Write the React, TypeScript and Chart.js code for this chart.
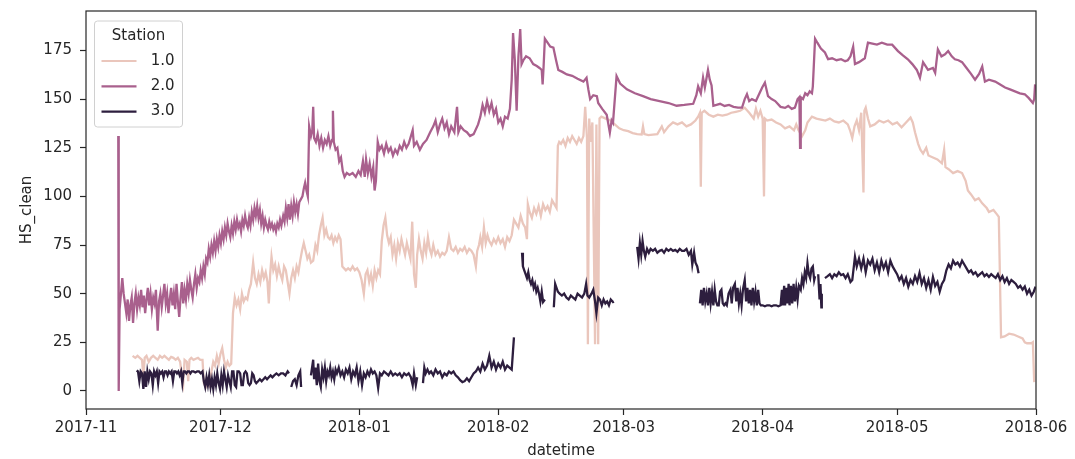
import React, { useEffect, useRef } from "react";
import { Chart, registerables } from "chart.js";

Chart.register(...registerables);

// x values are days since 2017-11-01
const monthTickDays = [0, 30, 61, 92, 120, 151, 181, 212];
const monthTickLabels = ["2017-11", "2017-12", "2018-01", "2018-02", "2018-03", "2018-04", "2018-05", "2018-06"];
const yTicks = [0, 25, 50, 75, 100, 125, 150, 175];
const stationLabels = ["1.0", "2.0", "3.0"];
const stationColors = ["#eac6bc", "#a9608d", "#2d1e3e"];

const station1: [number, number | null][] = [
  [10.4,18],[11,17],[11.5,18],[12,17],[12.5,16],[12.8,7],[13.1,17],[13.5,18],[14,15],[14.5,17],[15,18],[15.5,17],[16,16],[16.5,18],[17,17],[17.5,18],[18,17],[18.5,16],[19,17.5],[19.5,17],[20,16],[20.5,17],[21,15],[21.4,8],[21.7,4],[22,16],[22.5,15],[22.8,5],[23.1,16],[23.5,17],[24,16],[24.5,16.5],[25,17],[25.5,16],[26,16],[26.3,4],[26.7,2],[27.1,5],[27.5,3],[28,10],[28.4,15],[28.8,13],[29.2,18],[29.6,14],[30,19],[30.4,22],[30.8,16],[31.2,12],[31.6,15],[32,13],[32.4,14],[32.8,40],[33.2,48],[33.6,44],[34,47],[34.4,42],[34.8,50],[35.2,46],[35.6,48],[36,47],[36.4,52],[36.8,55],[37.3,66],[37.7,58],[38.1,55],[38.5,60],[38.9,56],[39.3,62],[39.7,58],[40.1,61],[40.5,56],[40.8,45],[41.1,60],[41.4,69],[41.8,62],[42.2,65],[42.6,59],[43,64],[43.4,60],[43.8,57],[44.2,64],[44.6,62],[45,56],[45.4,50],[45.8,58],[46.2,62],[46.6,58],[47,64],[47.4,61],[47.8,67],[48.2,72],[48.6,76],[49,72],[49.4,68],[49.8,70],[50.2,66],[50.7,67],[51.2,75],[51.6,72],[52,80],[52.4,85],[52.8,89],[53.2,80],[53.6,83],[54,79],[54.4,78],[54.8,80],[55.2,76],[55.6,79],[56,77],[56.4,80],[56.8,78],[57.2,64],[57.6,63],[58,62],[58.5,63],[59,62],[59.5,64],[60,62],[60.5,63],[61,61],[61.5,57],[62,50],[62.4,60],[62.8,62],[63.2,56],[63.6,60],[64,54],[64.4,62],[64.8,58],[65.2,62],[65.6,60],[66,77],[66.4,85],[66.8,89],[67.2,80],[67.6,76],[68,79],[68.4,70],[68.8,75],[69.2,68],[69.6,76],[70,72],[70.4,78],[70.8,74],[71.2,70],[71.6,76],[72,72],[72.4,68],[72.8,87],[73.2,60],[73.6,53],[73.9,70],[74.3,78],[74.7,72],[75.1,68],[75.5,76],[75.9,71],[76.3,79],[76.7,73],[77.1,70],[77.5,75],[78,70],[78.5,72],[79,69],[79.5,71],[80,70],[80.5,72],[81,79],[81.5,73],[82,72],[82.5,74],[83,71],[83.5,73],[84,72],[84.5,74],[85,71],[85.5,73],[86,72],[86.5,70],[87,64],[87.3,72],[87.7,75],[88,79],[88.4,74],[88.8,84],[89.2,76],[89.6,80],[90,77],[90.5,75],[91,78],[91.5,76],[92,79],[92.5,76],[93,78],[93.5,74],[94,79],[94.5,77],[95,80],[95.5,88],[96,86],[96.5,84],[97,90],[97.5,86],[98,84],[98.4,78],[98.6,96],[99,92],[99.5,89],[100,94],[100.5,91],[101,95],[101.5,90],[102,96],[102.5,93],[103,95],[103.5,92],[104,98],[104.5,96],[105,94],[105.3,126],[105.6,128],[106,127],[106.5,129],[107,126],[107.5,130],[108,128],[108.5,131],[109,129],[109.5,127],[110,130],[110.5,128],[111,131],[111.4,146],[111.8,130],[112,24],[112.3,140],[112.6,128],[113,138],[113.6,24],[113.9,137],[114.3,24],[114.6,140],[115,141],[116,140],[117,139],[118,137],[119,135],[120,134],[121,133.5],[122,132.5],[123,132],[124,131.8],[124.3,136],[124.6,132],[125.5,131.5],[126.5,131.8],[127.5,132],[128.5,136],[129,133],[130,136],[131,138],[132,137],[133,138],[134,136],[135,137],[136,139],[136.6,141],[137,143],[137.2,105],[137.4,143],[138,144],[139,142],[140,141],[141,142],[142,141.5],[143,142],[144,143],[145,143.5],[146,144],[147,145.6],[148,143],[149,140],[149.5,145],[150,141],[150.5,144],[151,140],[151.3,100],[151.5,140],[152,139],[153,139.5],[154,138],[155,137],[156,135],[157,136],[158,134],[158.5,137],[159,134],[159.8,131],[160.5,134],[161,138],[162,141],[163,140],[164,139.5],[165,139],[166,140],[167,138.5],[168,138],[169,139],[170,137],[170.5,134],[171,130],[171.5,136],[172,139],[172.5,134],[173,143],[173.5,102],[173.7,144],[174,145.6],[174.5,140],[175,136],[176,137],[177,139],[178,138],[179,139],[180,137],[181,138],[182,135.5],[183,138],[184,140.5],[184.5,138],[185,133],[185.7,127],[186.2,124],[186.8,122],[187.5,125],[188,121],[189,120],[190,119],[191,117],[191.5,124],[191.8,115],[192.5,114],[193.5,112],[194.5,113],[195.5,112],[196.3,108],[196.8,103],[197.5,101],[198.4,98],[199.2,99],[200,96.4],[201,94],[201.5,92],[202.5,93],[203.2,91],[203.7,89.5],[204.2,27.6],[205,28],[206,29.4],[207,29],[208,28],[209,27],[209.5,25],[210,24.5],[211,24.5],[211.3,25],[211.6,4.5]
];

const station2: [number, number | null][] = [
  [7.2,131],[7.3,0],[7.5,42],[7.8,50],[8.1,58],[8.4,50],[8.7,45],[9.0,40],[9.3,47],[9.6,36],[9.9,44],[10.2,48],[10.5,35],[10.8,45],[11.1,50],[11.4,42],[11.7,48],[12.0,44],[12.3,52],[12.6,43],[12.9,49],[13.2,40],[13.5,47],[13.8,53],[14.1,44],[14.4,50],[14.7,42],[15.0,48],[15.3,45],[15.6,52],[16.0,31],[16.3,46],[16.6,50],[16.9,43],[17.2,49],[17.5,55],[17.8,45],[18.1,50],[18.4,40],[18.7,47],[19.0,53],[19.3,44],[19.6,50],[19.9,42],[20.2,55],[20.5,46],[20.8,38],[21.1,48],[21.4,56],[21.7,45],[22.0,52],[22.3,47],[22.6,55],[22.9,50],[23.2,57],[23.5,52],[23.8,48],[24.1,55],[24.4,60],[24.7,53],[25.0,58],[25.3,56],[25.6,62],[25.9,58],[26.2,64],[26.5,60],[26.8,68],[27.1,66],[27.4,73],[27.7,69],[28.0,75],[28.3,71],[28.6,77],[28.9,72],[29.2,78],[29.5,74],[29.8,80],[30.1,76],[30.4,82],[30.7,78],[31.0,84],[31.3,80],[31.6,86],[31.9,82],[32.2,79],[32.5,85],[32.8,81],[33.1,87],[33.4,83],[33.7,88],[34.0,84],[34.3,86],[34.6,82],[34.9,88],[35.2,85],[35.5,90],[35.8,86],[36.1,84],[36.4,89],[36.7,85],[37.0,92],[37.3,88],[37.6,94],[37.9,90],[38.2,95],[38.5,89],[38.8,93],[39.1,86],[39.4,90],[39.7,84],[40.0,88],[40.3,85],[40.6,83],[40.9,87],[41.2,84],[41.5,86],[41.8,83],[42.1,85],[42.4,82],[42.7,86],[43.0,84],[43.3,88],[43.6,85],[44.0,90],[44.3,87],[44.6,94],[44.9,89],[45.2,96],[45.5,88],[45.8,95],[46.1,90],[46.4,97],[46.7,92],[47.0,96],[47.3,91],[47.6,97],[48.3,100],[48.6,104],[48.9,107],[49.2,103],[49.5,100],[49.8,136],[50.2,131],[50.5,134],[50.7,146],[50.9,130],[51.3,128],[51.7,132],[52.1,126],[52.5,130],[52.9,125],[53.3,129],[53.7,127],[54.1,131],[54.5,126],[54.9,129],[55.1,144],[55.3,128],[55.7,124],[56.1,125],[56.5,118],[56.9,120],[57.3,113],[57.7,110],[58.2,112],[58.8,111],[59.5,112],[60.2,110],[60.8,113],[61.3,111],[61.8,118],[62.2,110],[62.5,119],[62.9,112],[63.3,117],[63.7,110],[64.1,115],[64.4,103],[64.7,108],[65.1,128],[65.5,124],[66,126],[66.5,122],[67,127],[67.5,123],[68,125],[68.5,121],[69,124],[69.5,122],[70,126],[70.5,124],[71,128],[71.5,125],[72,127],[72.9,134],[73.2,126],[73.8,128],[74.5,124],[75.2,127],[76,129],[76.8,133],[77.5,136],[78,139],[78.5,133],[79,137],[79.5,140],[80,135],[80.5,138],[81,132],[81.5,136],[82.2,133],[82.8,146],[83.1,133],[83.6,136],[84.3,134],[85,133],[85.7,131],[86.5,132],[87.5,137],[88,141],[88.5,147],[89,143],[89.5,149],[90,144],[90.5,148],[91,142],[91.5,145],[92,138],[92.5,140],[93,136],[93.5,141],[94.1,140],[94.6,145],[95.0,160],[95.3,184],[95.7,170],[96.1,144],[96.5,172],[96.9,186],[97.2,168],[97.6,170],[98.2,172],[99,171],[99.8,168],[100.6,167],[101.2,166],[101.7,165],[101.9,157.5],[102.1,166],[102.4,181],[103,179],[103.6,177],[104.3,176.5],[104.9,170],[105.4,165],[106.3,164],[107.3,162.7],[108.5,162],[109.7,160.5],[111,159],[111.7,161],[112.1,155],[112.5,150],[113.2,152],[114,151.5],[114.3,148],[115.2,145],[116.2,142],[116.9,132.8],[117.3,139],[117.6,137.8],[118.4,161.8],[119.2,158],[120.7,155],[122.5,153],[124.3,151.5],[126,150],[128,149],[130,148],[131.8,146.6],[133.5,147],[135.5,147.6],[136.2,152],[136.6,156.6],[137.2,153],[137.7,161],[138.1,156],[138.8,165],[139.2,160],[139.6,157],[140,146.6],[141.5,147.6],[142.5,146.5],[143.5,147],[144.5,146],[145.5,145.6],[146.4,145.6],[147,150],[147.5,152.5],[148,149],[148.6,150],[149.5,149],[150.3,153],[150.9,156],[151.5,158.5],[152.2,151.5],[153,150],[153.8,149],[155,146],[156,145.5],[156.7,146.5],[157.5,145],[158.2,145.6],[158.8,150],[159.2,151],[159.35,125],[159.5,151],[160,150],[160.5,153],[161,152],[161.5,154],[162,153],[162.2,156.6],[162.7,181],[163.2,179],[164,176],[164.9,174],[165.6,170.5],[166.5,171],[167.5,170],[168.5,170.5],[169.4,169.5],[170,170],[170.6,172],[171.2,177],[171.6,168],[172.5,169],[173.8,171],[174.5,179],[175.5,178.5],[176.5,178],[177.6,179],[178.8,178],[179.9,178],[181.2,174.7],[182.3,172.5],[183.4,170.5],[184.4,168],[185.4,165],[186.1,161],[186.8,169],[187.9,165],[189,166],[189.5,163.5],[190.1,175.6],[190.9,172],[191.7,173],[192.4,174.7],[193.2,172],[193.9,170.5],[194.7,170],[195.5,169],[196.5,166],[197.5,163],[198.4,160],[199.3,163],[200,166.8],[200.6,159],[201.5,160],[202.9,159],[204,157.5],[205.1,156],[206.2,155],[207.3,154],[208.4,153],[209.5,152.5],[210.4,150.5],[211.3,148],[211.6,150],[211.8,157.6]
];

const station3: [number, number | null][] = [
  [11.3,10.5],[11.6,10],[11.9,5],[12.2,10],[12.5,9],[12.8,1],[13.1,10],[13.4,2],[13.7,10],[14.0,6],[14.3,10],[14.6,9],[14.9,3],[15.2,10],[15.5,8],[15.8,10],[16.1,4],[16.4,10],[16.7,9],[17.0,10],[17.3,7],[17.6,10],[17.9,10],[18.2,8],[18.5,10],[18.8,9],[19.1,10],[19.4,5],[19.7,10],[20.0,10],[20.3,9],[20.6,10],[20.9,8],[21.2,10],[21.5,4],[21.8,10],[22.1,10],[22.4,9],[22.7,10],[23.0,10],[23.3,9],[23.6,10],[24.0,10],[24.4,9.5],[24.8,10],[25.2,10],[25.6,9],[26.0,10],[26.3,5],[26.6,2],[26.9,7],[27.2,3],[27.5,8],[27.8,2],[28.1,6],[28.4,1],[28.7,7],[29.0,3],[29.3,9],[29.6,4],[29.9,1],[30.2,8],[30.5,3],[30.8,10],[31.1,6],[31.4,2],[31.7,8],[32.0,5],[32.3,2],[32.6,10],[32.9,10],[33.2,3],[33.5,2],[33.8,10],[34.1,10],[34.4,9],[34.7,3],[35.0,3],[35.3,9],[35.6,10],[35.9,9],[36.2,4],[36.5,3],[36.8,4],[37.1,9],[37.4,8],[37.7,5],[38.0,4],[38.4,5],[38.8,6],[39.2,5],[39.6,6],[40.0,7],[40.4,6],[40.8,7],[41.2,8],[41.6,7],[42.0,8],[42.5,9],[43.0,8],[43.5,9],[44.0,9],[44.5,8],[45.0,10],[45.3,9],[45.5,null],
  [45.8,2],[46.2,5],[46.6,6],[47.0,3],[47.4,8],[47.8,10],[48.0,2],[49.0,null],
  [50.2,8],[50.7,16],[50.9,6],[51.2,12],[51.5,3],[51.8,14],[52.1,5],[52.4,2],[52.7,11],[53.0,7],[53.3,12],[53.6,5],[53.9,10],[54.2,8],[54.5,12],[54.8,7],[55.1,10],[55.4,6],[55.7,11],[56.0,9],[56.4,12],[56.8,8],[57.2,10],[57.6,7],[58.0,11],[58.4,9],[58.8,12],[59.2,6],[59.6,10],[60.0,8],[60.4,12],[60.8,5],[61.2,10],[61.6,3],[62.0,9],[62.4,7],[62.8,10],[63.2,8],[63.6,11],[64.0,9],[64.4,10],[64.8,8],[65.2,1.5],[65.6,9],[66.0,8],[66.5,10],[67.0,9],[67.5,8],[68.0,10],[68.5,8],[69.0,9],[69.5,8],[70.0,9],[70.5,7],[71.0,9],[71.5,8],[72.0,9],[72.5,7],[72.9,3],[73.2,9],[73.6,3],[73.9,7],[74.5,null],
  [75.2,4],[75.5,12],[75.8,9],[76.2,11],[76.6,9],[77.0,10],[77.5,8],[78.0,11],[78.5,9],[79.0,10],[79.5,7],[80.0,9],[80.5,8],[81.0,10],[81.5,9],[82.0,10],[82.5,8],[83.0,7],[83.5,5.5],[84.0,4.5],[84.5,5],[85.0,6.5],[85.5,5],[86.0,7],[86.5,9],[87.0,10],[87.5,12],[88.0,10],[88.5,14],[89.0,11],[89.5,13],[90.0,18],[90.5,12],[91.0,15],[91.5,11],[92.0,14],[92.5,12],[93.0,15],[93.5,11],[94.0,13],[94.5,12],[95.0,11],[95.5,27.5],[96.5,null],
  [97.3,71],[97.5,64],[97.8,62],[98.1,60],[98.4,58],[98.7,61],[99.0,57],[99.3,55],[99.6,57],[99.9,53],[100.2,55],[100.5,51],[100.8,53],[101.1,50],[101.4,46],[101.7,51],[102.0,45.7],[102.4,47],[103.4,null],
  [104.4,43],[104.7,55],[105.0,53],[105.3,51],[105.7,50],[106.2,49],[106.7,50],[107.2,48],[107.7,47],[108.2,49],[108.7,48],[109.2,47],[109.7,50],[110.2,49],[110.7,48],[111.2,50],[111.6,55],[111.9,49],[112.3,48],[112.8,50],[113.2,52],[113.6,46],[113.9,40],[114.3,48],[114.7,47],[115.1,44],[115.5,47],[115.9,45],[116.3,46],[116.7,44],[117.1,47],[117.6,45.7],[117.8,46],[120,null],
  [123.0,74],[123.3,68],[123.6,76],[123.9,70],[124.2,77],[124.5,72],[124.8,69],[125.2,73],[125.6,71],[126.0,73],[126.5,72],[127.0,73],[127.5,71],[128.0,72],[128.5,72.5],[129.0,71],[129.5,73],[130.0,72],[130.5,73],[131.0,72],[131.5,72.5],[132.0,71.5],[132.5,73],[133.0,72],[133.5,72],[134.0,73],[134.5,70],[135.0,72],[135.3,65],[135.7,71],[136.0,66],[136.4,64],[136.7,60.5],[136.9,null],
  [137.0,45],[137.3,52],[137.6,44],[137.9,53],[138.2,46],[138.5,50],[138.8,44],[139.1,53],[139.4,45],[139.7,51],[140.0,44],[140.3,52],[140.6,46],[140.9,44],[141.2,44],[141.5,51],[141.8,52],[142.1,45],[142.4,44],[142.7,45],[143.0,44],[143.4,50],[143.8,52],[144.1,45],[144.4,53],[144.8,55],[145.1,46],[145.4,53],[145.7,45],[146.0,50],[146.3,44],[146.6,52],[147.0,57],[147.3,46],[147.6,53],[147.9,45],[148.2,52],[148.5,44],[148.8,53],[149.1,46],[149.4,51],[149.7,44],[150.0,52],[150.3,45],[150.6,44],[151.0,44],[151.5,43.5],[152.0,44],[152.5,44],[153.0,43.5],[153.5,44],[154.0,44],[154.5,43.5],[155.0,44],[155.3,52],[155.5,44],[155.8,54],[156.0,44],[156.3,53],[156.5,45],[156.8,55],[157.0,44],[157.3,54],[157.6,45],[157.9,55],[158.2,46],[158.5,53],[158.8,47],[159.1,54],[159.5,52],[159.8,58],[160.1,55],[160.4,61],[160.7,58],[161.0,65.6],[161.3,60],[161.6,58],[161.9,63],[162.2,64],[162.5,57],[162.7,59],[163.0,null],
  [163.4,60],[163.7,47],[163.9,55],[164.1,43],[164.2,50],[164.5,null],
  [164.9,58],[165.5,59],[166,60],[166.5,58],[167,60],[167.5,59],[168,61],[168.5,59.5],[169,60],[169.5,58],[170,60],[170.6,56],[171,57],[171.6,69],[172,64],[172.5,68],[173,63],[173.5,68],[174,61],[174.5,67],[175,65],[175.5,68],[176,62],[176.5,66],[177,61],[177.5,67],[178,63],[178.5,66],[179,61],[179.5,67],[180,64],[180.5,62],[181,60],[181.5,57],[182,59],[182.5,55],[183,58],[183.5,53.6],[184,57],[184.5,55],[185,59],[185.5,56],[186,60.6],[186.5,55],[187,58],[187.5,53],[188,57],[188.5,52],[189,58.6],[189.5,54],[190,56],[190.5,51],[191,55],[191.5,57],[192,62],[192.5,65],[193,63],[193.5,67],[194,65],[194.5,66],[195,64],[195.5,67],[196,65],[196.5,63],[197,61],[197.5,62],[198,60],[198.5,61],[199,59],[199.5,60],[200,61],[200.5,59],[201,60],[201.5,58.6],[202,60],[202.5,59],[203,58],[203.5,60],[204,57],[204.5,59],[205,56],[205.5,58],[206,55],[206.5,57],[207,56],[207.5,55],[208,53],[208.5,54],[209,52],[209.5,53.6],[210,50],[210.5,52],[211,49],[211.5,51],[211.9,53.6]
];

const stationSeries = [station1, station2, station3];

const TEXT = "#262626";
const FONT = "'DejaVu Sans', sans-serif";

const framePlugin = {
  id: "frameAndLegend",
  afterDraw(chart: any) {
    const { ctx, chartArea } = chart;
    ctx.save();
    ctx.strokeStyle = TEXT;
    ctx.lineWidth = 1.2;
    ctx.strokeRect(chartArea.left, chartArea.top, chartArea.right - chartArea.left, chartArea.bottom - chartArea.top);

    // legend box, matplotlib style
    const bx = chartArea.left + 8.5;
    const by = chartArea.top + 10;
    const bw = 88;
    const bh = 106;
    ctx.beginPath();
    if ((ctx as any).roundRect) (ctx as any).roundRect(bx, by, bw, bh, 3);
    else ctx.rect(bx, by, bw, bh);
    ctx.fillStyle = "rgba(255,255,255,0.85)";
    ctx.fill();
    ctx.strokeStyle = "#d0d0d0";
    ctx.lineWidth = 1;
    ctx.stroke();

    ctx.font = `15px ${FONT}`;
    ctx.fillStyle = TEXT;
    ctx.textBaseline = "middle";
    ctx.textAlign = "center";
    ctx.fillText("Station", bx + bw / 2, by + 15);
    chart.data.datasets.forEach((ds: any, i: number) => {
      const y = by + 40 + i * 25.3;
      ctx.strokeStyle = ds.borderColor;
      ctx.lineWidth = 2.2;
      ctx.beginPath();
      ctx.moveTo(bx + 7, y);
      ctx.lineTo(bx + 42, y);
      ctx.stroke();
      ctx.textAlign = "right";
      ctx.fillStyle = TEXT;
      ctx.fillText(ds.label, bx + 80, y);
    });
    ctx.restore();
  },
};

export default function App() {
  const canvasRef = useRef<HTMLCanvasElement | null>(null);

  useEffect(() => {
    if (!canvasRef.current) return;
    const datasets = stationSeries.map((series, i) => ({
      label: stationLabels[i],
      data: series.map(([d, v]) => ({ x: d, y: v })),
      borderColor: stationColors[i],
      backgroundColor: stationColors[i],
      borderWidth: 2.3,
      pointRadius: 0,
      tension: 0,
      spanGaps: false,
      order: 3 - i,
    }));

    const chart = new Chart(canvasRef.current, {
      type: "line",
      data: { datasets },
      plugins: [framePlugin],
      options: {
        animation: false,
        responsive: false,
        devicePixelRatio: 1,
        layout: { padding: { left: 0, top: 11, right: 39, bottom: 0 } },
        plugins: { legend: { display: false }, tooltip: { enabled: false } },
        scales: {
          x: {
            type: "linear",
            min: 0,
            max: 212,
            afterBuildTicks: (s: any) => {
              s.ticks = monthTickDays.map((v) => ({ value: v }));
            },
            afterFit: (s: any) => {
              s.height = 50;
              s.paddingLeft = 0;
              s.paddingRight = 0;
            },
            ticks: {
              autoSkip: false,
              maxRotation: 0,
              color: TEXT,
              padding: 4,
              font: { family: FONT, size: 15 },
              callback: (value: any, index: number) => monthTickLabels[index],
            },
            grid: { drawOnChartArea: false, drawTicks: true, tickLength: 6, tickColor: TEXT, tickWidth: 1.2 },
            border: { display: false },
            title: {
              display: true,
              text: "datetime",
              color: TEXT,
              padding: 0,
              font: { family: FONT, size: 15, lineHeight: 1 },
            },
          },
          y: {
            type: "linear",
            min: -9.3,
            max: 195.3,
            afterBuildTicks: (s: any) => {
              s.ticks = yTicks.map((v) => ({ value: v }));
            },
            afterFit: (s: any) => {
              s.width = 86;
              s.paddingTop = 0;
              s.paddingBottom = 0;
            },
            ticks: {
              color: TEXT,
              padding: 8,
              font: { family: FONT, size: 15 },
            },
            grid: { drawOnChartArea: false, drawTicks: true, tickLength: 6, tickColor: TEXT, tickWidth: 1.2 },
            border: { display: false },
            title: {
              display: true,
              text: "HS_clean",
              color: TEXT,
              padding: { top: 20, bottom: 0 },
              font: { family: FONT, size: 15, lineHeight: 1 },
            },
          },
        },
      },
    } as any);

    return () => chart.destroy();
  }, []);

  return (
    <div style={{ position: "absolute", left: 0, top: 0, width: 1075, height: 459, background: "#fff" }}>
      <canvas ref={canvasRef} width={1075} height={459} style={{ display: "block" }} />
    </div>
  );
}
